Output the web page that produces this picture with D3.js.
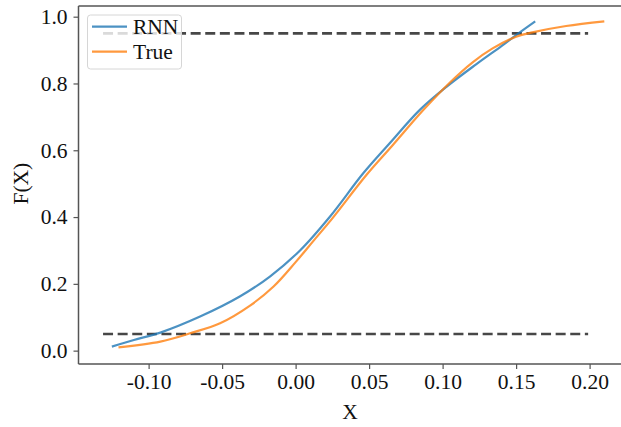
<!DOCTYPE html>
<html>
<head>
<meta charset="utf-8">
<script src="https://cdn.jsdelivr.net/npm/d3@7"></script>
<style>
  body { margin: 0; background: #fff; }
  svg { display: block; font-family: "Liberation Serif", "Times New Roman", serif; }
</style>
</head>
<body>
<div id="chart"></div>
<script>
// curve values
var rnnX = [-0.125, -0.11, -0.092, -0.065, -0.038, -0.0175, 0.003, 0.0233, 0.046, 0.064, 0.0845, 0.1026, 0.123, 0.14, 0.150, 0.163];
var rnnY = [0.012, 0.032, 0.054, 0.102, 0.162, 0.222, 0.30, 0.401, 0.531, 0.621, 0.721, 0.790, 0.858, 0.912, 0.945, 0.986];

var trueX = [-0.1205, -0.092, -0.0718, -0.0514, -0.031, -0.015, 0.0, 0.012, 0.025, 0.048, 0.066, 0.087, 0.105, 0.12, 0.134, 0.150, 0.161, 0.184, 0.21];
var trueY = [0.010, 0.027, 0.052, 0.082, 0.135, 0.192, 0.265, 0.328, 0.396, 0.525, 0.615, 0.721, 0.803, 0.862, 0.905, 0.940, 0.953, 0.972, 0.986];

// horizontal dashed reference levels
var refLevels = [0.05, 0.95];
var refStart = -0.131, refEnd = 0.199;

var xTicks = [-0.10, -0.05, 0.00, 0.05, 0.10, 0.15, 0.20];
var yTicks = [0.0, 0.2, 0.4, 0.6, 0.8, 1.0];

var seriesNames = ["RNN", "True"];
var seriesColors = ["#1f77b4", "#ff7f0e"];

var width = 621, height = 427;
var margin = { top: 6, left: 78.5, bottom: 63, right: -8 };
var fontSize = "21.5px";

var svg = d3.select("#chart")
    .append("svg")
    .attr("width", width)
    .attr("height", height);

var x = d3.scaleLinear()
    .domain([-0.1477, 0.2268])
    .range([margin.left, width - margin.right]);

var y = d3.scaleLinear()
    .domain([-0.04, 1.032])
    .range([height - margin.bottom, margin.top]);

svg.append("defs").append("clipPath").attr("id", "plotclip")
    .append("rect")
    .attr("x", margin.left).attr("y", margin.top)
    .attr("width", width - margin.right - margin.left)
    .attr("height", height - margin.bottom - margin.top);

var plot = svg.append("g").attr("clip-path", "url(#plotclip)");

// dashed reference lines
refLevels.forEach(function (lv) {
    plot.append("line")
        .attr("x1", x(refStart)).attr("x2", x(refEnd))
        .attr("y1", y(lv)).attr("y2", y(lv))
        .attr("stroke", "#474747")
        .attr("stroke-width", 2.6)
        .attr("stroke-dasharray", "10,4.6");
});

var line = d3.line()
    .x(d => x(d[0]))
    .y(d => y(d[1]))
    .curve(d3.curveCatmullRom.alpha(0.5));

var series = [
    d3.zip(rnnX, rnnY),
    d3.zip(trueX, trueY)
];

series.forEach(function (pts, i) {
    plot.append("path")
        .datum(pts)
        .attr("d", line)
        .attr("fill", "none")
        .attr("stroke", seriesColors[i])
        .attr("stroke-opacity", 0.8)
        .attr("stroke-width", 2.2);
});

// axes
var xAxis = svg.append("g")
    .attr("transform", "translate(0," + (height - margin.bottom) + ")")
    .call(d3.axisBottom(x).tickValues(xTicks)
        .tickFormat(d => d3.format(".2f")(d).replace("\u2212", "-"))
        .tickSizeOuter(0).tickSize(5).tickPadding(5));

var yAxis = svg.append("g")
    .attr("transform", "translate(" + margin.left + ",0)")
    .call(d3.axisLeft(y).tickValues(yTicks).tickFormat(d3.format(".1f"))
        .tickSizeOuter(0).tickSize(5).tickPadding(6));

[xAxis, yAxis].forEach(function (ax) {
    ax.select(".domain").remove();
    ax.selectAll("line").attr("stroke", "#555").attr("stroke-width", 1.2);
    ax.selectAll("text")
        .attr("fill", "#111")
        .style("font-size", fontSize)
        .style("font-family", "Liberation Serif, serif");
});

// spines (right one falls outside the picture)
var spine = svg.append("g").attr("stroke", "#555").attr("stroke-width", 1.5).attr("fill", "none");
spine.append("line").attr("x1", margin.left).attr("x2", margin.left)
    .attr("y1", margin.top).attr("y2", height - margin.bottom);
spine.append("line").attr("x1", margin.left).attr("x2", width)
    .attr("y1", height - margin.bottom).attr("y2", height - margin.bottom);
spine.append("line").attr("x1", margin.left).attr("x2", width)
    .attr("y1", margin.top).attr("y2", margin.top);

// axis labels
svg.append("text")
    .attr("x", x(0.037)).attr("y", 419)
    .attr("text-anchor", "middle")
    .style("font-size", fontSize)
    .attr("fill", "#111")
    .text("X");

svg.append("text")
    .attr("transform", "translate(28," + y(0.5) + ") rotate(-90)")
    .attr("text-anchor", "middle")
    .style("font-size", fontSize)
    .attr("fill", "#111")
    .text("F(X)");

// legend
var legend = svg.append("g");
legend.append("rect")
    .attr("x", 87.5).attr("y", 15)
    .attr("width", 94).attr("height", 54)
    .attr("rx", 3)
    .attr("fill", "#fff").attr("fill-opacity", 0.8)
    .attr("stroke", "#d6d6d6").attr("stroke-width", 1);

seriesNames.forEach(function (name, i) {
    var ly = 26.7 + i * 25;
    legend.append("line")
        .attr("x1", 92).attr("x2", 127)
        .attr("y1", ly).attr("y2", ly)
        .attr("stroke", seriesColors[i])
        .attr("stroke-opacity", 0.8)
        .attr("stroke-width", 2.2);
    legend.append("text")
        .attr("x", 133).attr("y", ly + 7)
        .style("font-size", fontSize)
        .attr("fill", "#111")
        .text(name);
});
</script>
</body>
</html>
